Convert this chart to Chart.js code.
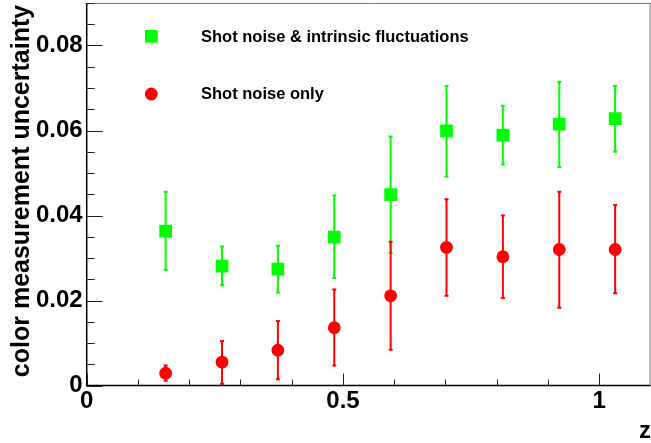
<!DOCTYPE html>
<html>
<head>
<meta charset="utf-8">
<script src="https://cdn.jsdelivr.net/npm/chart.js@4.4.1/dist/chart.umd.min.js"></script>
<style>
  html, body { margin: 0; padding: 0; background: #fff; }
  #wrap { width: 651px; height: 443px; }
</style>
</head>
<body>
<div id="wrap"><canvas id="chart"></canvas></div>
<script>
// redshift bins
const zBins = [0.154, 0.264, 0.373, 0.483, 0.593, 0.702, 0.812, 0.922, 1.031];

// shot noise + intrinsic fluctuations
const totalVal = [0.0363, 0.0281, 0.0274, 0.0349, 0.0449, 0.0599, 0.0589, 0.0615, 0.0628];
const totalLo  = [0.0272, 0.0236, 0.0219, 0.0253, 0.0312, 0.0491, 0.0520, 0.0514, 0.0550];
const totalHi  = [0.0456, 0.0327, 0.0329, 0.0447, 0.0586, 0.0705, 0.0658, 0.0714, 0.0705];

// shot noise only
const shotVal = [0.0029, 0.0055, 0.0083, 0.0136, 0.0211, 0.0325, 0.0303, 0.0320, 0.0320];
const shotLo  = [0.0011, 0.0004, 0.0015, 0.0047, 0.0084, 0.0211, 0.0206, 0.0183, 0.0217];
const shotHi  = [0.0047, 0.0105, 0.0152, 0.0226, 0.0338, 0.0438, 0.0400, 0.0456, 0.0425];

const legendLabels = ["Shot noise & intrinsic fluctuations", "Shot noise only"];
const xTitle = "z";
const yTitle = "color measurement uncertainty";

const GREEN = "#00ff00";
const RED = "#ff0000";
const FONT = "'Liberation Sans', Arial, sans-serif";

function pts(vals) {
  return zBins.map((z, i) => ({ x: z, y: vals[i] }));
}

// error bars under the markers
const errorBars = {
  id: "errorBars",
  beforeDatasetsDraw(chart) {
    const { ctx, scales: { x, y } } = chart;
    const sets = [[totalLo, totalHi, GREEN], [shotLo, shotHi, RED]];
    ctx.save();
    ctx.beginPath();
    ctx.rect(chart.chartArea.left, chart.chartArea.top, chart.chartArea.width, chart.chartArea.height);
    ctx.clip();
    ctx.lineWidth = 2;
    sets.forEach(([lo, hi, col]) => {
      ctx.strokeStyle = col;
      zBins.forEach((z, i) => {
        const px = x.getPixelForValue(z);
        const y1 = y.getPixelForValue(lo[i]);
        const y2 = y.getPixelForValue(hi[i]);
        ctx.beginPath();
        ctx.moveTo(px, y1); ctx.lineTo(px, y2);
        ctx.moveTo(px - 2, y1); ctx.lineTo(px + 2, y1);
        ctx.moveTo(px - 2, y2); ctx.lineTo(px + 2, y2);
        ctx.stroke();
      });
    });
    ctx.restore();
  }
};

// ROOT style frame, inward ticks, legend and titles
const frame = {
  id: "frame",
  afterDraw(chart) {
    const { ctx, chartArea: a, scales: { x, y } } = chart;
    ctx.save();
    ctx.strokeStyle = "#777";
    ctx.lineWidth = 1;
    ctx.beginPath();
    ctx.moveTo(a.left, a.top + 0.5); ctx.lineTo(a.right, a.top + 0.5);
    ctx.moveTo(a.right - 0.5, a.top); ctx.lineTo(a.right - 0.5, a.bottom);
    ctx.stroke();

    ctx.strokeStyle = "#000";
    ctx.lineWidth = 1.5;
    ctx.beginPath();
    ctx.moveTo(a.left, a.top); ctx.lineTo(a.left, a.bottom);
    ctx.lineTo(a.right, a.bottom);
    ctx.stroke();

    ctx.lineWidth = 1;
    ctx.strokeStyle = "#222";
    ctx.beginPath();
    y.ticks.forEach(t => {
      const py = Math.round(y.getPixelForValue(t.value)) + 0.5;
      const major = Math.round(t.value * 1000) % 20 === 0;
      ctx.moveTo(a.left, py); ctx.lineTo(a.left + (major ? 16 : 8), py);
    });
    x.ticks.forEach(t => {
      const px = Math.round(x.getPixelForValue(t.value)) + 0.5;
      const major = Math.round(t.value * 10) % 5 === 0;
      ctx.moveTo(px, a.bottom); ctx.lineTo(px, a.bottom - (major ? 12 : 6));
    });
    ctx.stroke();

    // legend
    ctx.fillStyle = GREEN;
    ctx.fillRect(145, 30, 12.7, 12.7);
    ctx.fillStyle = RED;
    ctx.beginPath();
    ctx.arc(151.3, 94, 6.4, 0, Math.PI * 2);
    ctx.fill();
    ctx.fillStyle = "#000";
    ctx.font = "bold 16.5px " + FONT;
    ctx.textBaseline = "middle";
    ctx.textAlign = "left";
    ctx.fillText(legendLabels[0], 201, 37.5);
    ctx.fillText(legendLabels[1], 201, 94.5);

    // axis titles
    ctx.font = "bold 24px " + FONT;
    ctx.textAlign = "right";
    ctx.textBaseline = "alphabetic";
    ctx.fillText(xTitle, 651, 438);

    ctx.font = "bold 25px " + FONT;
    ctx.translate(29, 191);
    ctx.rotate(-Math.PI / 2);
    ctx.textAlign = "center";
    ctx.fillText(yTitle, 0, 0);
    ctx.restore();
  }
};

new Chart(document.getElementById("chart"), {
  type: "scatter",
  data: {
    datasets: [
      {
        label: legendLabels[0],
        data: pts(totalVal),
        pointStyle: "rect",
        pointRadius: 9,
        backgroundColor: GREEN,
        borderWidth: 0
      },
      {
        label: legendLabels[1],
        data: pts(shotVal),
        pointStyle: "circle",
        pointRadius: 6.4,
        backgroundColor: RED,
        borderWidth: 0
      }
    ]
  },
  options: {
    responsive: true,
    maintainAspectRatio: false,
    animation: false,
    events: [],
    layout: { autoPadding: false, padding: { left: 0, right: 0.5, top: 3, bottom: 0 } },
    plugins: { legend: { display: false }, tooltip: { enabled: false } },
    scales: {
      x: {
        type: "linear",
        min: 0,
        max: 1.1,
        grid: { display: false, drawTicks: false },
        border: { display: false },
        afterFit: s => {
          s.height = 57.5;
          s.paddingLeft = 0;
          s.paddingRight = 0;
        },
        ticks: {
          stepSize: 0.1,
          autoSkip: false,
          maxRotation: 0,
          padding: 1,
          color: "#000",
          font: { family: FONT, size: 24, weight: "bold" },
          callback: v => {
            const k = Math.round(v * 10);
            if (k % 5 !== 0) return "";
            return k === 0 ? "0" : String(k / 10);
          }
        }
      },
      y: {
        type: "linear",
        min: 0,
        max: 0.09,
        grid: { display: false, drawTicks: false },
        border: { display: false },
        afterFit: s => {
          s.width = 86.7;
          s.paddingTop = 0;
          s.paddingBottom = 0;
        },
        ticks: {
          stepSize: 0.005,
          autoSkip: false,
          padding: 4,
          color: "#000",
          font: { family: FONT, size: 24, weight: "bold" },
          callback: v => {
            const k = Math.round(v * 1000);
            if (k % 20 !== 0) return "";
            return k === 0 ? "0" : String(k / 1000);
          }
        }
      }
    }
  },
  plugins: [errorBars, frame]
});
</script>
</body>
</html>
